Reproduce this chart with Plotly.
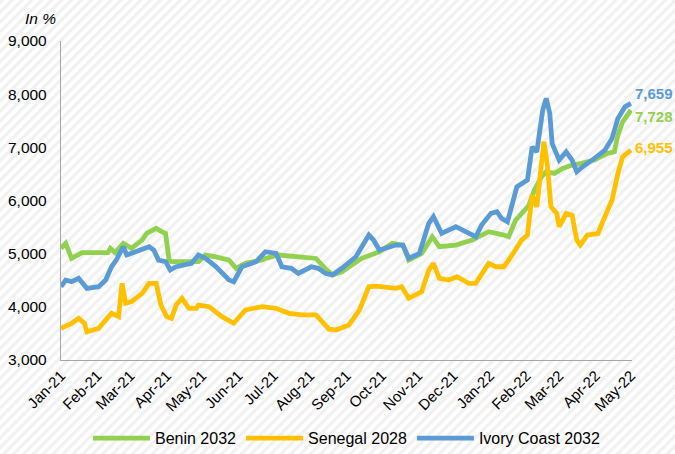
import base64
import plotly.graph_objects as go

# ---------------- data ----------------
benin_dates = ["2021-01-01","2021-01-05","2021-01-10","2021-01-19","2021-02-10","2021-02-12","2021-02-16",
               "2021-02-23","2021-03-02","2021-03-11","2021-03-15","2021-03-23","2021-03-28","2021-03-31",
               "2021-04-03","2021-04-05","2021-04-28","2021-05-04","2021-05-13","2021-05-24","2021-05-30",
               "2021-06-07","2021-06-21","2021-06-24","2021-07-05","2021-07-22","2021-08-06","2021-08-14",
               "2021-08-20","2021-08-28","2021-09-14","2021-09-29","2021-10-10","2021-10-19","2021-10-24",
               "2021-11-04","2021-11-13","2021-11-19","2021-12-03","2021-12-17","2021-12-31","2022-01-13",
               "2022-01-17","2022-01-23","2022-02-03","2022-02-08","2022-02-14","2022-02-18","2022-02-25",
               "2022-03-04","2022-03-12","2022-03-20","2022-03-31","2022-04-11","2022-04-17","2022-04-20",
               "2022-04-24","2022-05-01"]
benin_vals = [5100,5194,4912,5021,5021,5100,5021,
              5194,5100,5256,5382,5476,5410,5380,
              4880,4850,4850,4974,4940,4880,4724,
              4820,4880,4910,4975,4940,4910,4720,
              4600,4660,4912,5036,5194,5162,4880,
              5005,5319,5130,5162,5256,5413,5350,
              5319,5632,5900,6200,6446,6540,6510,
              6603,6666,6697,6760,6886,6915,7230,
              7480,7700]

ivory_dates = ["2021-01-01","2021-01-05","2021-01-10","2021-01-16","2021-01-23","2021-02-02","2021-02-08",
               "2021-02-13","2021-02-17","2021-02-23","2021-02-26","2021-03-05","2021-03-17","2021-03-21",
               "2021-03-25","2021-03-31","2021-04-04","2021-04-09","2021-04-22","2021-04-28","2021-05-04",
               "2021-05-13","2021-05-24","2021-05-28","2021-06-04","2021-06-16","2021-06-24","2021-07-03",
               "2021-07-08","2021-07-16","2021-07-22","2021-08-02","2021-08-08","2021-08-14","2021-08-20",
               "2021-08-28","2021-09-09","2021-09-20","2021-09-24","2021-09-29","2021-10-13","2021-10-19",
               "2021-10-24","2021-11-02","2021-11-10","2021-11-14","2021-11-21","2021-12-03","2021-12-12",
               "2021-12-20","2021-12-25","2022-01-02","2022-01-07","2022-01-11","2022-01-16","2022-01-24",
               "2022-02-02","2022-02-06","2022-02-10","2022-02-15","2022-02-18","2022-02-21","2022-02-23",
               "2022-03-01","2022-03-07","2022-03-12","2022-03-16","2022-03-21","2022-03-31","2022-04-09",
               "2022-04-15","2022-04-20","2022-04-26","2022-05-01"]
ivory_vals = [4378,4504,4472,4536,4348,4378,4504,
              4754,4880,5130,4974,5036,5130,5067,
              4880,4850,4692,4754,4817,4974,4912,
              4754,4504,4472,4754,4850,5036,5005,
              4754,4724,4630,4754,4724,4630,4600,
              4724,4942,5350,5256,5068,5162,5162,
              4912,5005,5570,5694,5382,5507,5413,
              5319,5538,5758,5790,5664,5600,6258,
              6384,7010,6915,7700,7920,7638,7074,
              6760,6915,6760,6540,6634,6792,6948,
              7168,7544,7762,7826]

senegal_dates = ["2021-01-01","2021-01-10","2021-01-16","2021-01-21","2021-01-23","2021-02-02","2021-02-08",
                 "2021-02-13","2021-02-19","2021-02-22","2021-02-25","2021-03-02","2021-03-11","2021-03-17",
                 "2021-03-23","2021-03-27","2021-04-01","2021-04-05","2021-04-09","2021-04-14","2021-04-20",
                 "2021-04-26","2021-04-28","2021-05-07","2021-05-18","2021-05-28","2021-06-07","2021-06-21",
                 "2021-07-03","2021-07-14","2021-07-25","2021-08-06","2021-08-17","2021-08-23","2021-09-03",
                 "2021-09-12","2021-09-20","2021-09-26","2021-10-13","2021-10-18","2021-10-24","2021-11-04",
                 "2021-11-10","2021-11-14","2021-11-19","2021-11-27","2021-12-04","2021-12-14","2021-12-20",
                 "2021-12-31","2022-01-06","2022-01-13","2022-01-19","2022-01-28","2022-02-02","2022-02-06",
                 "2022-02-10","2022-02-16","2022-02-19","2022-02-22","2022-02-27","2022-03-01","2022-03-07",
                 "2022-03-12","2022-03-16","2022-03-19","2022-03-25","2022-04-03","2022-04-09","2022-04-15",
                 "2022-04-20","2022-04-24","2022-05-01"]
senegal_vals = [3596,3690,3784,3690,3532,3596,3752,
                3878,3815,4442,4066,4097,4254,4442,
                4442,4034,3815,3784,4034,4160,3972,
                3972,4034,4003,3815,3690,3940,4003,
                3972,3878,3847,3847,3580,3565,3659,
                3940,4378,4390,4347,4378,4160,4285,
                4692,4817,4536,4504,4567,4441,4441,
                4817,4754,4754,4942,5256,5350,6102,
                5882,7104,6660,5882,5758,5510,5758,
                5720,5256,5162,5350,5380,5700,6008,
                6510,6822,6948]

series_names = ["Benin 2032", "Senegal 2028", "Ivory Coast 2032"]
end_labels = ["7,728", "6,955", "7,659"]

GREEN, ORANGE, BLUE = "#92D050", "#FFC000", "#5B9BD5"
FONT = "Liberation Sans, Arial, sans-serif"

W, H = 675, 454
ML, MR, MT, MB = 61, 43, 41, 94
PW, PH = W - ML - MR, H - MT - MB

# subtle diagonal hatch background, as in the reference
svg = (f'<svg xmlns="http://www.w3.org/2000/svg" width="{W}" height="{H}">'
       '<defs><pattern id="p" width="7" height="7" patternUnits="userSpaceOnUse" '
       'patternTransform="rotate(45)"><rect width="7" height="7" fill="#ffffff"/>'
       '<rect width="3.2" height="7" fill="#f1f1f1"/></pattern></defs>'
       f'<rect width="{W}" height="{H}" fill="url(#p)"/></svg>')
bg_src = "data:image/svg+xml;base64," + base64.b64encode(svg.encode()).decode()

fig = go.Figure()
fig.add_trace(go.Scatter(x=benin_dates, y=benin_vals, name=series_names[0], mode="lines",
                         line=dict(color=GREEN, width=4.8), legendrank=1))
fig.add_trace(go.Scatter(x=ivory_dates, y=ivory_vals, name=series_names[2], mode="lines",
                         line=dict(color=BLUE, width=4.8), legendrank=3))
fig.add_trace(go.Scatter(x=senegal_dates, y=senegal_vals, name=series_names[1], mode="lines",
                         line=dict(color=ORANGE, width=4.8), legendrank=2))

# end-of-line value labels
for dates, vals, lab, col, ys in [(ivory_dates, ivory_vals, end_labels[2], BLUE, 10),
                                   (benin_dates, benin_vals, end_labels[0], GREEN, -6),
                                   (senegal_dates, senegal_vals, end_labels[1], ORANGE, 3)]:
    fig.add_annotation(x=dates[-1], y=vals[-1], text=f"<b>{lab}</b>", showarrow=False,
                       xanchor="left", yanchor="middle", xshift=2, yshift=ys,
                       font=dict(family=FONT, size=15, color=col))

fig.add_annotation(x=0, y=1, xref="paper", yref="paper", text="<i>In %</i>", showarrow=False,
                   xanchor="right", yanchor="middle", xshift=-3, yshift=23,
                   font=dict(family=FONT, size=15.5, color="#000000"))

fig.add_layout_image(dict(source=bg_src, xref="paper", yref="paper",
                          x=-ML / PW, y=1 + MT / PH, sizex=W / PW, sizey=H / PH,
                          xanchor="left", yanchor="top", sizing="stretch", layer="below"))

fig.update_layout(
    width=W, height=H,
    margin=dict(l=ML, r=MR, t=MT, b=MB, autoexpand=False),
    paper_bgcolor="#ffffff", plot_bgcolor="rgba(0,0,0,0)",
    font=dict(family=FONT, size=15, color="#000000"),
    showlegend=True,
    legend=dict(orientation="h", x=0.5, xanchor="center", y=-0.245, yanchor="middle",
                font=dict(family=FONT, size=16, color="#000000"), itemwidth=57,
                bgcolor="rgba(0,0,0,0)", traceorder="normal"),
    hovermode=False,
)
fig.update_xaxes(type="date", range=["2021-01-01", "2022-05-02"], dtick="M1", tick0="2021-01-01",
                 tickformat="%b-%y", tickangle=-45, showgrid=False, zeroline=False, automargin=False,
                 showline=True, linecolor="#a6a6a6", linewidth=1.3, ticks="",
                 tickfont=dict(family=FONT, size=15))
fig.update_yaxes(range=[3000, 9000], dtick=1000, tickformat=",d", showgrid=False, zeroline=False,
                 automargin=False, showline=True, linecolor="#a6a6a6", linewidth=1.3, ticks="",
                 ticklabelstandoff=10, tickfont=dict(family=FONT, size=15.5))

fig.write_html("out.html", config={"displayModeBar": False},
               post_script="document.body.style.margin='0';document.body.style.overflow='hidden';")
